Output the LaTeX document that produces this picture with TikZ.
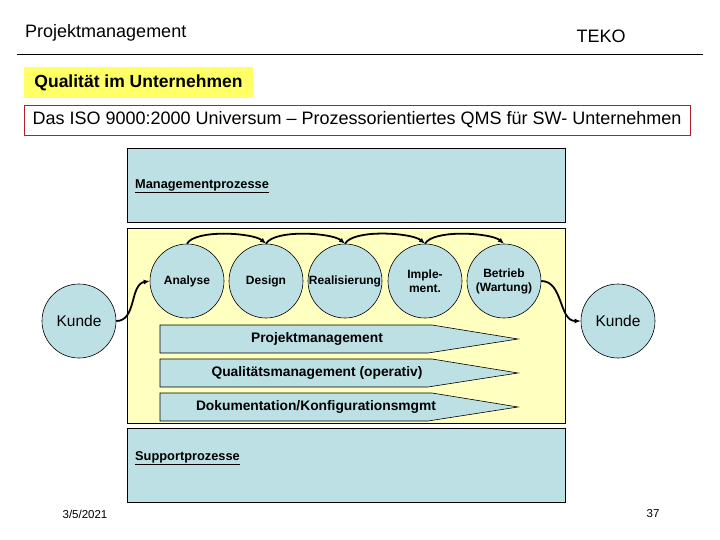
\documentclass[tikz,border=0pt]{standalone}
\usepackage{fontspec}
\setmainfont{Liberation Sans}
\usepackage{xcolor}
\usepackage{tikz}
\usetikzlibrary{arrows.meta,positioning}
\definecolor{processFill}{HTML}{BDE0E4}
\definecolor{coreFill}{HTML}{FFFFC0}
\definecolor{titleFill}{HTML}{FFFF66}
\definecolor{isoLine}{HTML}{B0202A}

\begin{document}
\begin{tikzpicture}[
  x=1pt, y=1pt,
  font=\fontsize{18}{21}\selectfont,
  >={Latex[length=6pt,width=5pt]},
  area box/.style={
    draw=black,
    line width=1pt,
    inner sep=0pt
  },
  process area/.style={
    area box,
    fill=processFill,
    minimum width=438pt,
    minimum height=74pt
  },
  core area/.style={
    area box,
    fill=coreFill,
    minimum width=438pt,
    minimum height=194pt
  },
  area label/.style={
    anchor=west,
    inner sep=0pt,
    font=\fontsize{12.8}{15}\selectfont\bfseries
  },
  phase/.style={
    circle,
    draw=black,
    line width=0.6pt,
    fill=processFill,
    minimum size=74pt,
    inner sep=0pt,
    align=center,
    font=\fontsize{12}{14}\selectfont\bfseries
  },
  customer/.style={
    phase,
    font=\fontsize{15.5}{18}\selectfont
  },
  band/.style={
    draw=black,
    line width=0.6pt,
    fill=processFill
  },
  band label/.style={
    inner sep=0pt,
    font=\fontsize{13.8}{16}\selectfont\bfseries
  },
  flow/.style={
    ->,
    line width=1.8pt
  },
  footer/.style={
    inner sep=0pt,
    font=\fontsize{11.5}{14}\selectfont
  }
]
\useasboundingbox (0,0) rectangle (720,-540);

% Slide heading
\node[inner sep=0pt, anchor=west] (slideTitle) at (25,-33) {Projektmanagement};
\node[inner sep=0pt] (teko) at (601,-36) {TEKO};
\draw[line width=0.8pt] (17,-54) -- (703,-54);

\node[fill=titleFill, minimum width=229pt, minimum height=31pt, inner sep=0pt,
  font=\fontsize{17.5}{20}\selectfont\bfseries] (topic) at (138.5,-82.5)
  {Qualität im Unternehmen};
\node[draw=isoLine, line width=0.8pt, minimum width=666pt, minimum height=30pt,
  inner sep=0pt] (isoTitle) at (357,-120)
  {Das ISO 9000:2000 Universum -- Prozessorientiertes QMS für SW- Unternehmen};

% Process areas
\node[process area] (mgmtArea) at (346,-186) {};
\node[core area] (coreArea) at (346,-326) {};
\node[process area] (supportArea) at (346,-465) {};

\node[area label] (mgmtLabel) at (135,-186) {\underline{Managementprozesse}};
\node[area label] (supportLabel) at (135,-458) {\underline{Supportprozesse}};

% Core process phases
\node[phase] (analyse) at (187,-281) {Analyse};
\node[phase] (design) at (266,-281) {Design};
\node[phase] (realisierung) at (345,-281) {Realisierung};
\node[phase] (implement) at (425,-281) {Imple-\\ment.};
\node[phase] (betrieb) at (504,-281) {Betrieb\\(Wartung)};

\node[customer] (kundeLeft) at (79,-321) {Kunde};
\node[customer] (kundeRight) at (618,-321) {Kunde};

% Flow between phases
\draw[flow] (kundeLeft.east) to[out=0, in=190] (analyse.west);
\draw[flow] (analyse.north) to[out=60, in=140, looseness=0.55] (design.north);
\draw[flow] (design.north) to[out=60, in=140, looseness=0.55] (realisierung.north);
\draw[flow] (realisierung.north) to[out=60, in=140, looseness=0.55] (implement.north);
\draw[flow] (implement.north) to[out=60, in=140, looseness=0.55] (betrieb.north);
\draw[flow] (betrieb.east) to[out=0, in=180] (kundeRight.west);

% Cross-cutting bands
\draw[band] (160,-325) -- (432,-325) -- (518,-339) -- (428,-353) -- (160,-353) -- cycle;
\node[band label] (pmBand) at (317,-339) {Projektmanagement};
\draw[band] (160,-359) -- (432,-359) -- (518,-373) -- (428,-387) -- (160,-387) -- cycle;
\node[band label] (qmBand) at (317,-373) {Qualitätsmanagement (operativ)};
\draw[band] (160,-393) -- (432,-393) -- (518,-407) -- (428,-421) -- (160,-421) -- cycle;
\node[band label] (docBand) at (316,-407) {Dokumentation/Konfigurationsmgmt};

% Footer
\node[footer] (date) at (85,-514) {3/5/2021};
\node[footer] (pageNo) at (653,-514) {37};

\end{tikzpicture}
\end{document}
